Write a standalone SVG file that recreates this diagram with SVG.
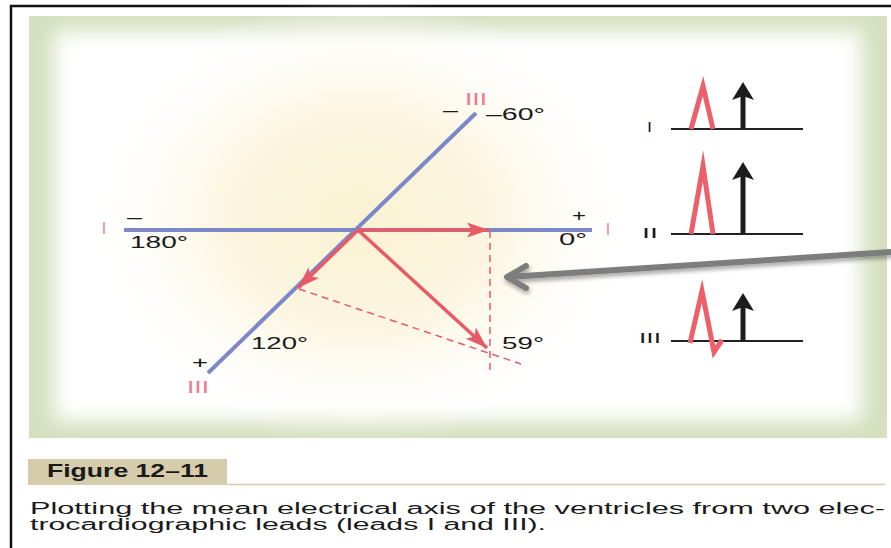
<svg xmlns="http://www.w3.org/2000/svg" width="891" height="548" viewBox="0 0 891 548">
<style>
.lead{stroke:#7c88c8;stroke-width:4;fill:none}
.vec{stroke:#e85a66;stroke-width:3.5;fill:none}
.dash{stroke:#e85a66;stroke-width:1.5;fill:none;stroke-dasharray:7 5}
.t{font-family:"Liberation Sans",Arial,sans-serif;font-size:16px;fill:#1a1a1a}
.rl{font-family:"Liberation Sans",Arial,sans-serif;font-size:16px;fill:#f07890}
.bl{font-family:"Liberation Sans",Arial,sans-serif;font-size:14px;fill:#1a1a1a}
.base{stroke:#222;stroke-width:2;fill:none}
.spike{stroke:#ec5f6b;stroke-width:5;fill:none;stroke-linejoin:miter;stroke-miterlimit:10}
.shaft{stroke:#1c1c1c;stroke-width:5;fill:none}
.cap{font-family:"Liberation Sans",Arial,sans-serif;font-size:16px;fill:#1a1a1a}
</style>
<defs>
<filter id="soft" x="-10%" y="-10%" width="120%" height="120%"><feGaussianBlur stdDeviation="10"/></filter>
<filter id="shadow" x="-10%" y="-50%" width="120%" height="200%"><feDropShadow dx="1" dy="3" stdDeviation="2" flood-color="#000" flood-opacity="0.35"/></filter>
<radialGradient id="glow" cx="360" cy="220" r="280" gradientUnits="userSpaceOnUse" gradientTransform="translate(360 220) scale(1 0.8) translate(-360 -220)">
<stop offset="0" stop-color="#faf2d2"/>
<stop offset="0.5" stop-color="#fcf6e2"/>
<stop offset="1" stop-color="#ffffff" stop-opacity="0"/>
</radialGradient>
<marker id="ah" viewBox="-24 -9 26 18" markerWidth="26" markerHeight="18" refX="0" refY="0" orient="auto" markerUnits="userSpaceOnUse">
<path d="M0,0 L-22,-7.5 L-17,0 L-22,7.5 z" fill="#e85a66"/>
</marker>
</defs>
<rect width="891" height="548" fill="#ffffff"/>
<path d="M11,548 V6 H891" fill="none" stroke="#111" stroke-width="2.5"/>
<g id="panel">
<rect x="29" y="16" width="858" height="422" fill="#d4e0bf"/>
<rect x="54" y="31" width="808" height="390" fill="#ffffff" filter="url(#soft)"/>
<ellipse cx="360" cy="220" rx="280" ry="224" fill="url(#glow)"/>
</g>
<g id="connectors">
<line class="lead" x1="124" y1="230" x2="592" y2="230"/>
<line class="lead" x1="476" y1="113" x2="208" y2="373"/>
<line class="dash" x1="490" y1="231" x2="490" y2="374"/>
<line class="dash" x1="299" y1="289" x2="521" y2="364"/>
<line class="vec" x1="358" y1="230" x2="489" y2="230" marker-end="url(#ah)"/>
<line class="vec" x1="358" y1="230" x2="298" y2="288" marker-end="url(#ah)"/>
<line class="vec" x1="358" y1="230" x2="487" y2="348" marker-end="url(#ah)"/>
<g filter="url(#shadow)">
<path d="M891,252 L508,277" stroke="#7d7d7d" stroke-width="6" fill="none" stroke-linecap="round"/>
<path d="M526,266 L507,277 L526,288" stroke="#7d7d7d" stroke-width="6" fill="none" stroke-linecap="round" stroke-linejoin="round"/>
</g>
</g>
<g id="labels-axes">
<text class="rl" x="102" y="234" textLength="4" lengthAdjust="spacingAndGlyphs">I</text>
<text class="t" x="127" y="223" textLength="15" lengthAdjust="spacingAndGlyphs">–</text>
<text class="t" x="130" y="248" textLength="58" lengthAdjust="spacingAndGlyphs">180°</text>
<text class="t" x="572" y="221" textLength="14" lengthAdjust="spacingAndGlyphs">+</text>
<text class="t" x="559" y="245" textLength="28" lengthAdjust="spacingAndGlyphs">0°</text>
<text class="rl" x="606" y="235" textLength="4" lengthAdjust="spacingAndGlyphs">I</text>
<text class="rl" x="465" y="105" textLength="22" lengthAdjust="spacingAndGlyphs">III</text>
<text class="t" x="443" y="116" textLength="15" lengthAdjust="spacingAndGlyphs">–</text>
<text class="t" x="486" y="120" textLength="59" lengthAdjust="spacingAndGlyphs">–60°</text>
<text class="t" x="502" y="349" textLength="42" lengthAdjust="spacingAndGlyphs">59°</text>
<text class="t" x="251" y="349" textLength="57" lengthAdjust="spacingAndGlyphs">120°</text>
<text class="t" x="192" y="368" textLength="16" lengthAdjust="spacingAndGlyphs">+</text>
<text class="rl" x="187" y="393" textLength="22" lengthAdjust="spacingAndGlyphs">III</text>
</g>
<g id="lead-I">
<text class="bl" x="647" y="132" textLength="5" lengthAdjust="spacingAndGlyphs">I</text>
<line class="base" x1="671" y1="129" x2="803" y2="129"/>
<polyline class="spike" points="691,129 703,86 713,129"/>
<line class="shaft" x1="743" y1="129" x2="743" y2="92"/>
<path d="M743,82 L754,100 L743,96 L732,100 z" fill="#1c1c1c"/>
</g>
<g id="lead-II">
<text class="bl" x="642" y="238" textLength="16" lengthAdjust="spacingAndGlyphs">II</text>
<line class="base" x1="671" y1="234" x2="803" y2="234"/>
<polyline class="spike" points="691,234 703,166 713,234"/>
<line class="shaft" x1="743" y1="234" x2="743" y2="172"/>
<path d="M743,162 L754,180 L743,176 L732,180 z" fill="#1c1c1c"/>
</g>
<g id="lead-III">
<text class="bl" x="639" y="343" textLength="22" lengthAdjust="spacingAndGlyphs">III</text>
<line class="base" x1="671" y1="341" x2="803" y2="341"/>
<polyline class="spike" points="690,343 702,291 714,352 722,340"/>
<line class="shaft" x1="743" y1="341" x2="743" y2="303"/>
<path d="M743,293 L754,311 L743,307 L732,311 z" fill="#1c1c1c"/>
</g>
<g id="caption">
<rect x="28" y="459" width="199" height="26" fill="#d6cbab"/>
<line x1="227" y1="484.5" x2="885" y2="484.5" stroke="#d6cbab" stroke-width="1.5"/>
<text x="47" y="477" font-family="Liberation Sans,Arial,sans-serif" font-size="19" font-weight="bold" fill="#1a1a1a" textLength="161" lengthAdjust="spacingAndGlyphs">Figure 12–11</text>
<text class="cap" x="30" y="514" textLength="855" lengthAdjust="spacingAndGlyphs">Plotting the mean electrical axis of the ventricles from two elec-</text>
<text class="cap" x="30" y="530" textLength="516" lengthAdjust="spacingAndGlyphs">trocardiographic leads (leads I and III).</text>
</g>
</svg>
